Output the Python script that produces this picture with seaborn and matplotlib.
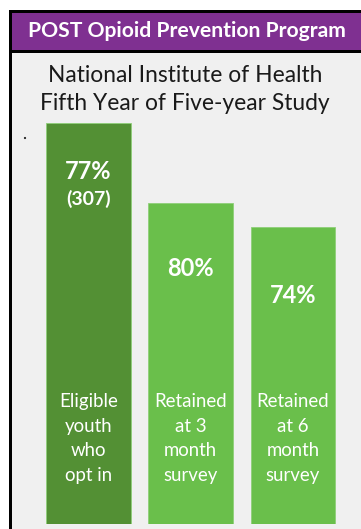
import matplotlib
matplotlib.use("Agg")
import matplotlib.pyplot as plt
import seaborn as sns
import pandas as pd
from matplotlib.patches import Rectangle, Circle

# ---- data ----
categories = ["Eligible\nyouth\nwho\nopt in", "Retained\nat 3\nmonth\nsurvey", "Retained\nat 6\nmonth\nsurvey"]
bar_heights = [100, 80, 74]          # relative funnel size (bar 1 = 100)
pct_labels = ["77%", "80%", "74%"]
count_labels = ["(307)", "", ""]
header = "POST Opioid Prevention Program"
title_lines = ["National Institute of Health", "Fifth Year of Five-year Study"]

sns.set_theme(style="white")
plt.rcParams["font.family"] = ["Lato", "DejaVu Sans"]

W, H = 361, 529
fig = plt.figure(figsize=(W / 100, H / 100), dpi=100)
fig.patch.set_facecolor("white")

# background / frame axes in pixel coordinates
bg = fig.add_axes([0, 0, 1, 1])
bg.set_xlim(0, W)
bg.set_ylim(H, 0)
bg.axis("off")
bg.add_patch(Rectangle((12, 12), W - 12, H - 12, facecolor="#f0f0f0", edgecolor="none"))
bg.add_patch(Rectangle((12, 12.5), W - 12, 38, facecolor="#7f3091", edgecolor="none"))
bg.add_patch(Rectangle((8.5, 10), W, 3, facecolor="black", edgecolor="none"))
bg.add_patch(Rectangle((12, 50), W, 2.5, facecolor="black", edgecolor="none"))
bg.add_patch(Rectangle((8.5, 10), 3.5, H, facecolor="black", edgecolor="none"))
bg.add_patch(Circle((25, 138), 1.1, facecolor="#222222", edgecolor="none"))
bg.text(187, 31, header, color="white", fontsize=15.2, fontweight="bold",
        ha="center", va="center")
bg.text(185, 75, title_lines[0], color="#1a1a1a", fontsize=16.4, ha="center", va="center")
bg.text(185, 103, title_lines[1], color="#1a1a1a", fontsize=16.4, ha="center", va="center")

# bar axes
ax = fig.add_axes([37.4 / W, 5 / H, 306.7 / W, 401 / H])
ax.patch.set_alpha(0)
df = pd.DataFrame({"cat": categories, "val": bar_heights})
palette = ["#539034", "#6abf4b", "#6abf4b"]
sns.barplot(data=df, x="cat", y="val", hue="cat", palette=palette, width=0.83,
            saturation=1, legend=False, ax=ax, edgecolor="#8fcf78", linewidth=0.6)
ax.set_xlim(-0.5, 2.5)
ax.set_ylim(0, 100)
ax.axis("off")

pct_y = [87.8, 63.8, 56.9]
for i, (p, c) in enumerate(zip(pct_labels, count_labels)):
    ax.text(i, pct_y[i], p, color="white", fontsize=17, fontweight="bold",
            ha="center", va="center")
    if c:
        ax.text(i, 81.0, c, color="white", fontsize=14, fontweight="bold",
                ha="center", va="center")
    ax.text(i, 21.3, categories[i], color="white", fontsize=13.4,
            ha="center", va="center", linespacing=1.55)

fig.savefig("out.png", dpi=100)
